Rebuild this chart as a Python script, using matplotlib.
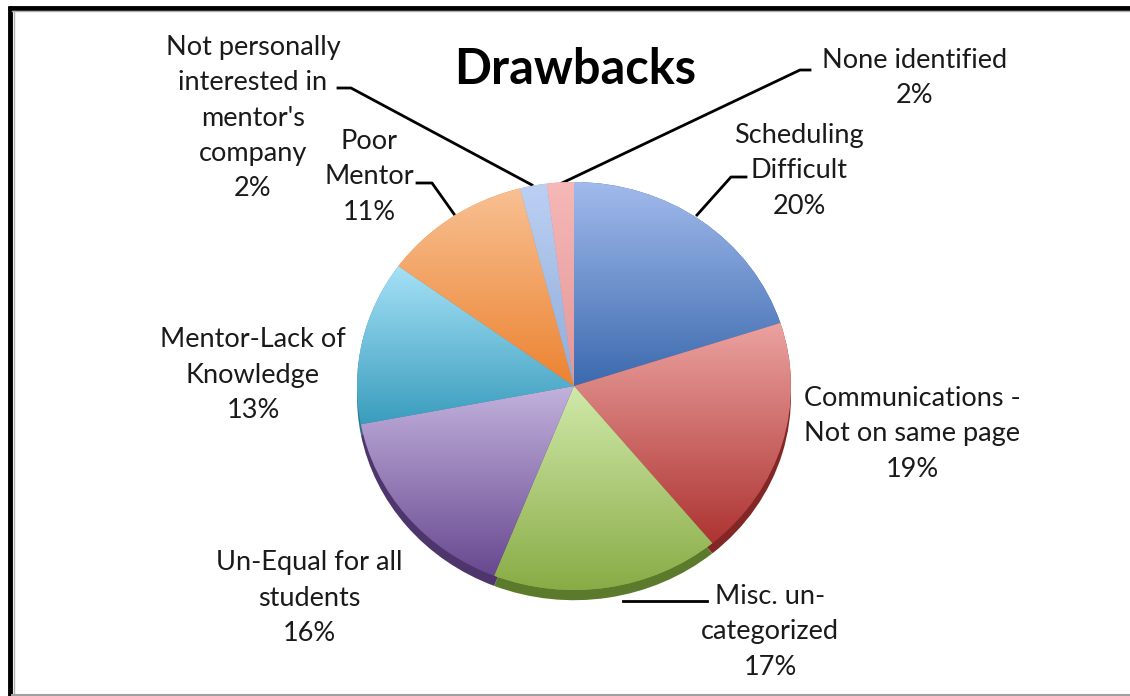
import numpy as np
import matplotlib
matplotlib.use('Agg')
import matplotlib.pyplot as plt
from matplotlib.colors import to_rgb

plt.rcParams['font.family'] = ['Lato', 'DejaVu Sans']

# data
categories = ['Scheduling\nDifficult', 'Communications -\nNot on same page', 'Misc. un-\ncategorized',
              'Un-Equal for all\nstudents', 'Mentor-Lack of\nKnowledge', 'Poor\nMentor',
              "Not personally\ninterested in\nmentor's\ncompany", 'None identified']
values = [20, 19, 17, 16, 13, 11, 2, 2]

# gradient colours per slice (top, bottom) and 3d side colour
top_cols = ['#a2baec', '#eca3a1', '#d0e9aa', '#c2b2dd', '#a6e1f7', '#f8c093', '#bcd0f3', '#f6b8b8']
bot_cols = ['#3b6aae', '#ad3432', '#89ac46', '#684890', '#3a9dbd', '#ec8330', '#90acd9', '#e39696']
side_cols = ['#2c4f82', '#822725', '#5b7a2c', '#4e356c', '#2b768e', '#b16224', '#6c81a3', '#aa7070']

# label anchor positions (pixels) and leader lines
label_pos = [(799, 171), (912, 434), (770, 632), (309, 598), (253, 375), (369, 177), (253, 118), (915, 78)]
leaders = {
    0: [(746, 177), (731, 177), (697, 215)],
    2: [(707, 601), (623, 601)],
    5: [(417, 183), (432, 183), (454, 214)],
    6: [(338, 88), (351, 88), (532, 185)],
    7: [(810, 70), (800, 70), (562, 183)],
}

W, H = 1130, 696
fig = plt.figure(figsize=(W / 100, H / 100), dpi=100)
ax = fig.add_axes([0, 0, 1, 1])
ax.set_xlim(0, W)
ax.set_ylim(H, 0)
ax.axis('off')

# frame around chart
ax.plot([8, W], [7.5, 7.5], color='black', lw=3.5, solid_capstyle='butt', zorder=5)
ax.plot([10, 10], [6, H], color='black', lw=3.5, solid_capstyle='butt', zorder=5)
ax.plot([12, W], [11, 11], color='#b0b0b0', lw=1, zorder=5)
ax.plot([13.5, 13.5], [11, H], color='#b0b0b0', lw=1, zorder=5)
ax.plot([12, W], [694.5, 694.5], color='#a0a0a0', lw=1.5, zorder=5)

# pie axes (slightly tilted ellipse)
cx, cy, rx, ry = 574, 386, 217, 204
x0l, x1l, y0l, y1l = -1.02, 1.02, -1.1, 1.02
pax = fig.add_axes([(cx + rx * x0l) / W, 1 - (cy - ry * y0l) / H,
                    rx * (x1l - x0l) / W, ry * (y1l - y0l) / H])

# 3d side (rim)
pax.pie(values, colors=side_cols, startangle=90, counterclock=False, radius=1,
        center=(0, -0.05), wedgeprops=dict(linewidth=0))
wedges, _ = pax.pie(values, colors=bot_cols, startangle=90, counterclock=False, radius=1,
                    wedgeprops=dict(linewidth=0))

grad = np.linspace(0, 1, 256)[:, None]
for w, ct, cb in zip(wedges, top_cols, bot_cols):
    bb = w.get_path().get_extents()
    t, b = np.array(to_rgb(ct)), np.array(to_rgb(cb))
    img = (t[None, None, :] * (1 - grad[..., None]) + b[None, None, :] * grad[..., None])
    im = pax.imshow(img, extent=(bb.x0, bb.x1, bb.y0, bb.y1), origin='upper',
                    aspect='auto', interpolation='bilinear', zorder=w.get_zorder() + 0.1)
    im.set_clip_path(w)

pax.set_xlim(x0l, x1l)
pax.set_ylim(y0l, y1l)
pax.set_aspect('auto')
pax.axis('off')

# labels
for i, (name, v) in enumerate(zip(categories, values)):
    x, y = label_pos[i]
    ax.text(x, y, f'{name}\n{v}%', ha='center', va='center', multialignment='center',
            fontsize=19.5, color='#1a1a1a', linespacing=1.52)

for pts in leaders.values():
    xs, ys = zip(*pts)
    ax.plot(xs, ys, color='black', lw=2, zorder=4)

ax.text(575, 70, 'Drawbacks', ha='center', va='center', fontsize=35, fontweight='bold', color='black')

fig.savefig('out.png', dpi=100)
